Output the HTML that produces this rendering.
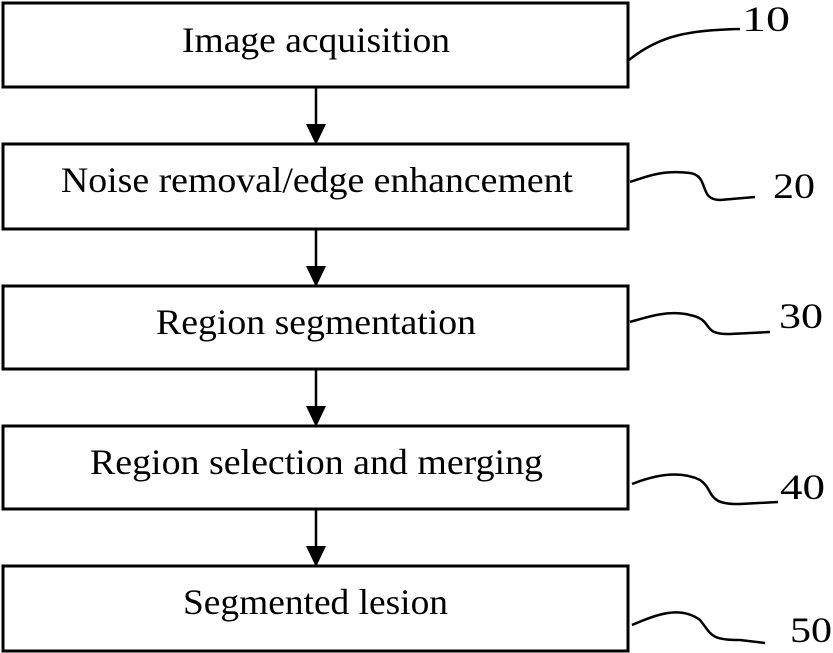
<!DOCTYPE html>
<html><head><style>body{margin:0;background:#fff}text{font-family:"Liberation Serif",serif}</style></head><body>
<svg width="833" height="653" viewBox="0 0 833 653" xmlns="http://www.w3.org/2000/svg" style="display:block">
<g fill="none" stroke="#000" stroke-width="3">
<rect x="3" y="3" width="625" height="84"/>
<rect x="3" y="144" width="625" height="85"/>
<rect x="3" y="286" width="625" height="83"/>
<rect x="3" y="426" width="625" height="83"/>
<rect x="3" y="566" width="625" height="85"/>
<g stroke-width="2.5">
<line x1="316" y1="87" x2="316" y2="125"/>
<line x1="316" y1="229" x2="316" y2="267"/>
<line x1="316" y1="369" x2="316" y2="407"/>
<line x1="316" y1="509" x2="316" y2="547"/>
</g>
<g stroke-width="2.5">
<path d="M629 60 C660 35 690 30 740 29"/>
<path d="M630 182 C650 175 665 170 690 173 C710 176 698 200 720 200 L755 197"/>
<path d="M630 322 C650 316 670 310 690 315 C715 320 700 335 730 334 L770 332"/>
<path d="M632 484 C655 475 680 470 700 480 C715 490 705 505 740 504 L778 502"/>
<path d="M632 625 C655 615 680 605 700 620 C712 635 710 640 740 640 L765 643"/>
</g>
</g>
<g fill="#000">
<polygon points="306,124 326,124 316,145"/>
<polygon points="306,266 326,266 316,287"/>
<polygon points="306,406 326,406 316,427"/>
<polygon points="306,546 326,546 316,567"/>
</g>
<g font-family="'Liberation Serif', serif" font-size="36" fill="#000">
<text x="182" y="52" textLength="268" lengthAdjust="spacingAndGlyphs">Image acquisition</text>
<text x="61" y="192" textLength="512" lengthAdjust="spacingAndGlyphs">Noise removal/edge enhancement</text>
<text x="156" y="334" textLength="320" lengthAdjust="spacingAndGlyphs">Region segmentation</text>
<text x="90" y="474" textLength="453" lengthAdjust="spacingAndGlyphs">Region selection and merging</text>
<text x="183" y="614" textLength="265" lengthAdjust="spacingAndGlyphs">Segmented lesion</text>
<text x="742" y="31" textLength="48" lengthAdjust="spacingAndGlyphs">10</text>
<text x="773" y="198" textLength="42" lengthAdjust="spacingAndGlyphs">20</text>
<text x="779" y="328" textLength="44" lengthAdjust="spacingAndGlyphs">30</text>
<text x="780" y="499" textLength="45" lengthAdjust="spacingAndGlyphs">40</text>
<text x="790" y="642" textLength="42" lengthAdjust="spacingAndGlyphs">50</text>
</g>
</svg>
</body></html>
